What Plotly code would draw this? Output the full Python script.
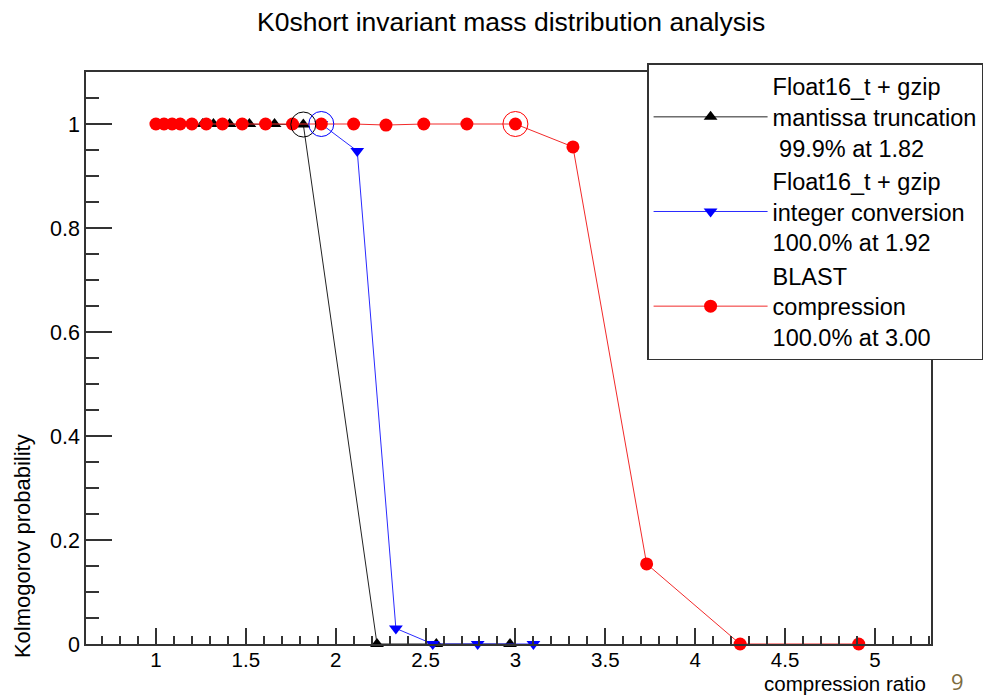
import plotly.graph_objects as go

# ---- data ----
mantissa_x = [1.26, 1.32, 1.41, 1.52, 1.66, 1.82, 2.23, 2.56, 2.97]
mantissa_y = [1.0, 1.0, 1.0, 1.0, 1.0, 0.999, 0.0, 0.0, 0.0]

integer_x = [1.92, 2.12, 2.335, 2.54, 2.79, 3.10]
integer_y = [1.0, 0.948, 0.03, 0.0, 0.0, 0.0]

blast_x = [1.0, 1.045, 1.09, 1.135, 1.2, 1.28, 1.37, 1.48, 1.61, 1.76, 1.92,
           2.10, 2.28, 2.49, 2.73, 3.00, 3.32, 3.73, 4.25, 4.91]
blast_y = [1.0, 1.0, 1.0, 1.0, 1.0, 1.0, 1.0, 1.0, 1.0, 1.0, 1.0,
           1.0, 0.998, 1.0, 1.0, 1.0, 0.956, 0.154, 0.0, 0.0]

best_ratio = {"mantissa": 1.82, "integer": 1.92, "blast": 3.00}

names = [
    "Float16_t + gzip<br>mantissa truncation<br> 99.9% at 1.82",
    "Float16_t + gzip<br>integer conversion<br>100.0% at 1.92",
    "BLAST<br>compression<br>100.0% at 3.00",
]

x_ticks = [1, 1.5, 2, 2.5, 3, 3.5, 4, 4.5, 5]
y_ticks = [0, 0.2, 0.4, 0.6, 0.8, 1]

FONT = "Liberation Sans, Arial, Helvetica, sans-serif"

fig = go.Figure()

series = [
    (mantissa_x, mantissa_y, "#000000", "#222222", "triangle-up", names[0], "mantissa", 12),
    (integer_x, integer_y, "#0000ff", "#2a2aff", "triangle-down", names[1], "integer", 12),
    (blast_x, blast_y, "#ff0000", "#f22a2a", "circle", names[2], "blast", 13),
]

for xs, ys, col, lcol, sym, nm, key, ms in series:
    fig.add_trace(go.Scatter(
        x=xs, y=ys, mode="lines+markers", name=nm,
        line=dict(color=lcol, width=1),
        marker=dict(color=col, symbol=sym, size=ms, line=dict(width=0)),
        cliponaxis=False, legendgroup=key,
    ))

for xs, ys, col, lcol, sym, nm, key, ms in series:
    bx = best_ratio[key]
    i = min(range(len(xs)), key=lambda k: abs(xs[k] - bx))
    fig.add_trace(go.Scatter(
        x=[xs[i]], y=[ys[i]], mode="markers", showlegend=False,
        marker=dict(symbol="circle-open", size=25, color=col, line=dict(width=1, color=col)),
        cliponaxis=False, hoverinfo="skip",
    ))

fig.update_layout(
    width=984, height=696,
    margin=dict(l=86, r=53, t=72, b=52, autoexpand=False),
    paper_bgcolor="white", plot_bgcolor="white",
    font=dict(family=FONT, size=20, color="#000000"),
    showlegend=True,
    legend=dict(
        x=0.664, y=1.0157, xanchor="left", yanchor="top",
        bgcolor="white", bordercolor="#333333", borderwidth=1.5,
        font=dict(family=FONT, size=23.5, color="#000000"),
        itemwidth=114, tracegroupgap=0, traceorder="normal",
    ),
)

fig.update_xaxes(
    range=[0.611, 5.312], showgrid=False, zeroline=False,
    showline=True, linecolor="#333333", linewidth=1.5, mirror=True,
    ticks="inside", ticklen=16, tickwidth=1.5, tickcolor="#333333",
    tickvals=x_ticks, ticktext=[f"{v:g}" for v in x_ticks],
    tickfont=dict(size=20.5), ticklabelstandoff=-3,
    minor=dict(ticks="inside", ticklen=8, dtick=0.1, tick0=0, tickwidth=1.5, tickcolor="#333333", showgrid=False),
)
fig.update_yaxes(
    range=[0, 1.1], showgrid=False, zeroline=False,
    showline=True, linecolor="#333333", linewidth=1.5, mirror=True,
    ticks="inside", ticklen=26, tickwidth=1.5, tickcolor="#333333",
    tickvals=y_ticks, ticktext=[f"{v:g}" for v in y_ticks],
    tickfont=dict(size=21.5),
    minor=dict(ticks="inside", ticklen=13, dtick=0.05, tick0=0, tickwidth=1.5, tickcolor="#333333", showgrid=False),
)

fig.add_annotation(
    text="K0short invariant mass distribution analysis",
    xref="paper", yref="paper", x=0.503, y=1.0874, xanchor="center", yanchor="middle",
    showarrow=False, font=dict(family=FONT, size=26.5, color="#000000"),
)
fig.add_annotation(
    text="Kolmogorov probability", textangle=-90,
    xref="paper", yref="paper", x=-0.0757, y=-0.028, xanchor="center", yanchor="bottom",
    showarrow=False, font=dict(family=FONT, size=22, color="#000000"),
)
fig.add_annotation(
    text="compression ratio",
    xref="paper", yref="paper", x=0.995, y=-0.0682, xanchor="right", yanchor="middle",
    showarrow=False, font=dict(family=FONT, size=20.5, color="#000000"), borderpad=0,
)
fig.add_annotation(
    text="9",
    xref="paper", yref="paper", x=1.031, y=-0.0647, xanchor="center", yanchor="middle",
    showarrow=False, font=dict(family="Open Sans, sans-serif", size=22, color="#7d6b3e"),
)

fig.write_html("out.html")
